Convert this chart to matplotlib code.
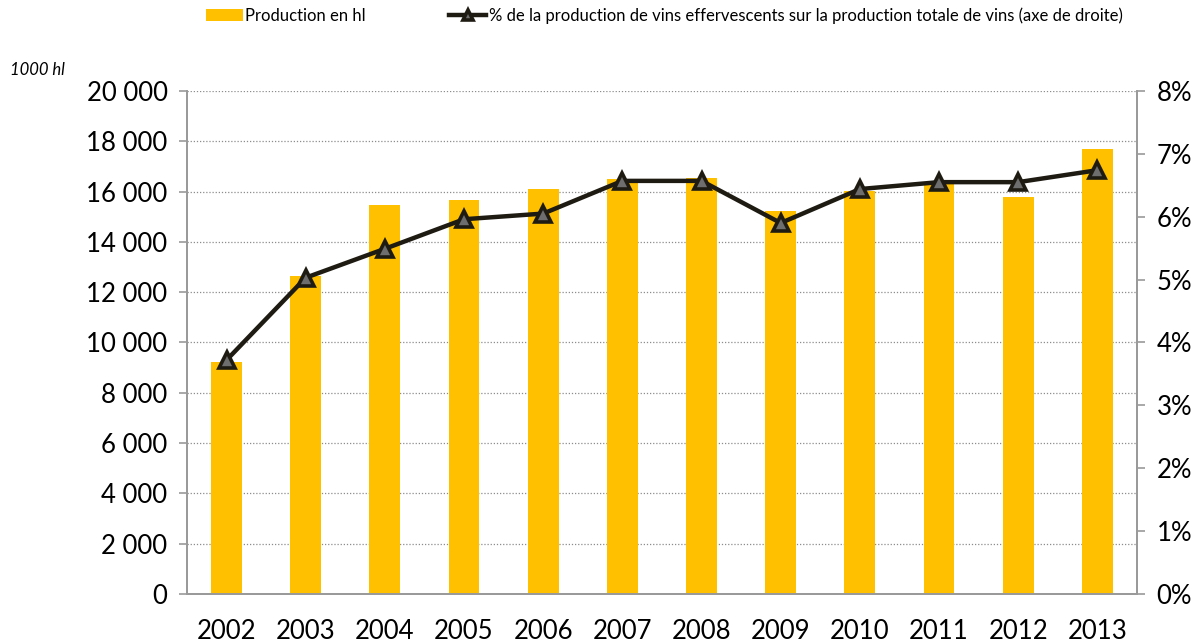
import matplotlib.pyplot as plt
from matplotlib.ticker import FuncFormatter, MultipleLocator
import numpy as np

years = ['2002', '2003', '2004', '2005', '2006', '2007',
         '2008', '2009', '2010', '2011', '2012', '2013']
production = [9230, 12650, 15450, 15660, 16120, 16490,
              16540, 15220, 16020, 16330, 15800, 17680]
share_pct = [3.72, 5.03, 5.49, 5.96, 6.05, 6.57,
             6.57, 5.90, 6.44, 6.55, 6.55, 6.74]

plt.rcParams['font.family'] = ['Lato', 'DejaVu Sans']

fig = plt.figure(figsize=(12.03, 6.42), dpi=100)
ax = fig.add_axes([0.1554, 0.0748, 0.7897, 0.7835])
ax2 = ax.twinx()

x = np.arange(len(years))
bars = ax.bar(x, production, width=0.39, color='#FFC000', zorder=2,
              label='Production en hl')
line, = ax2.plot(x, share_pct, color='#1E1B12', lw=3.2, marker='^',
                 markersize=12, markerfacecolor='#6E6E6E',
                 markeredgecolor='#1E1B12', markeredgewidth=2.6, zorder=3,
                 label='% de la production de vins effervescents sur la production totale de vins (axe de droite)')

ax.set_xlim(-0.5, len(years) - 0.5)
ax.set_ylim(0, 20000)
ax2.set_ylim(0, 8)
ax.yaxis.set_major_locator(MultipleLocator(2000))
ax2.yaxis.set_major_locator(MultipleLocator(1))
ax.yaxis.set_major_formatter(FuncFormatter(lambda v, p: f'{int(v):,}'.replace(',', ' ')))
ax2.yaxis.set_major_formatter(FuncFormatter(lambda v, p: f'{int(v)}%'))

ax.set_xticks(x)
ax.set_xticklabels(years)
ax.grid(axis='y', linestyle=(0, (1, 1.5)), color='#8C8C8C', lw=0.9, zorder=0)
ax.set_axisbelow(True)

for a in (ax, ax2):
    a.spines['top'].set_visible(False)
    for s in ('left', 'right', 'bottom'):
        a.spines[s].set_color('#9A9A9A')
        a.spines[s].set_linewidth(1.3)
    a.tick_params(axis='y', labelsize=18.5, length=6, width=1.2, color='#9A9A9A', pad=8)
ax.tick_params(axis='x', labelsize=18.5, length=0, pad=18)

fig.text(0.008, 0.883, '1000 hl', fontsize=12, style='italic')

fig.legend(handles=[bars, line], loc='upper left', bbox_to_anchor=(0.159, 1.012),
           ncol=2, frameon=False, fontsize=12, handlelength=2.2,
           handletextpad=0.15, columnspacing=5.0, markerscale=0.6)

fig.savefig('out.png', dpi=100)
